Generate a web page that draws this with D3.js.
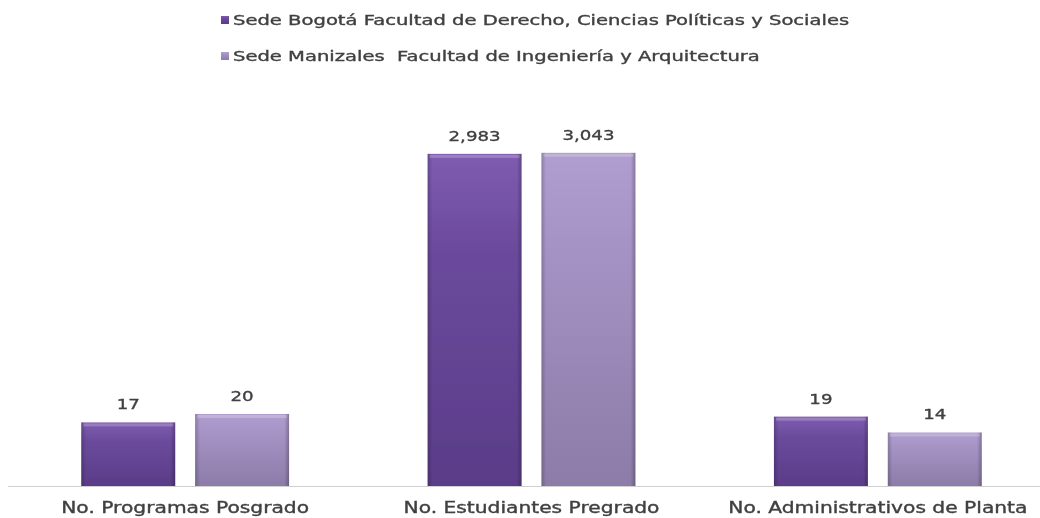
<!DOCTYPE html>
<html>
<head>
<meta charset="utf-8">
<script src="https://cdn.jsdelivr.net/npm/d3@7"></script>
<style>
  html, body { margin: 0; padding: 0; background: #fff; }
  svg { display: block; }
  text { font-family: "DejaVu Sans", Verdana, sans-serif; fill: #404040; stroke: #404040; stroke-width: 0.35px; white-space: pre; }
</style>
</head>
<body>
<svg id="chart" width="1040" height="518"></svg>
<script>
// Indicadores por sede
const categories = ["No. Programas Posgrado", "No. Estudiantes Pregrado", "No. Administrativos de Planta"];
const seriesNames = [
  "Sede Bogotá Facultad de Derecho, Ciencias Políticas y Sociales",
  "Sede Manizales  Facultad de Ingeniería y Arquitectura"
];
const bogota = [17, 2983, 19];
const manizales = [20, 3043, 14];
const valueLabels = [["17", "2,983", "19"], ["20", "3,043", "14"]];

const series = [bogota, manizales];
const W = 1040, H = 518;
const svg = d3.select("#chart");

// place a text at (x, y) and widen it horizontally by sx
function placeText(parent, str, x, yPos, size, anchor, sx) {
  return parent.append("text")
    .attr("transform", `translate(${x},${yPos}) scale(${sx},1)`)
    .attr("text-anchor", anchor)
    .attr("font-size", size)
    .text(str);
}

const baseY = 486;
const x0 = d3.scaleBand().domain(categories).range([12, 1051]).paddingInner(0.4).paddingOuter(0.2);
const x1 = d3.scaleBand().domain([0, 1]).range([0, x0.bandwidth()]).paddingInner(0.175);
const y = d3.scaleLog().domain([5, 10000]).range([baseY, 91]);

// gradients giving the bars a bevelled look
const defs = svg.append("defs");
const palettes = [
  { top: "#7f5cb0", mid: "#6a4a9c", bot: "#5a3c88" },
  { top: "#b09ed0", mid: "#a492c4", bot: "#8c7ca8" }
];
palettes.forEach((p, i) => {
  const g = defs.append("linearGradient").attr("id", "vg" + i).attr("x1", 0).attr("y1", 0).attr("x2", 0).attr("y2", 1);
  g.append("stop").attr("offset", "0").attr("stop-color", p.top);
  g.append("stop").attr("offset", "0.3").attr("stop-color", p.mid);
  g.append("stop").attr("offset", "1").attr("stop-color", p.bot);
});
const side = defs.append("linearGradient").attr("id", "side").attr("x1", 0).attr("y1", 0).attr("x2", 1).attr("y2", 0);
side.append("stop").attr("offset", "0").attr("stop-color", "#000").attr("stop-opacity", 0.2);
side.append("stop").attr("offset", "0.05").attr("stop-color", "#000").attr("stop-opacity", 0.0);
side.append("stop").attr("offset", "0.95").attr("stop-color", "#000").attr("stop-opacity", 0.0);
side.append("stop").attr("offset", "1").attr("stop-color", "#000").attr("stop-opacity", 0.25);
defs.append("filter").attr("id", "soft").append("feGaussianBlur").attr("stdDeviation", 0.6);
defs.append("filter").attr("id", "softText").append("feGaussianBlur").attr("stdDeviation", 0.45);

// baseline
svg.append("line").attr("x1", 8).attr("x2", W).attr("y1", baseY + 0.5).attr("y2", baseY + 0.5)
  .attr("stroke", "#d0d0d0").attr("stroke-width", 1.2);

// bars
const barLayer = svg.append("g").attr("filter", "url(#soft)");
const textLayer = svg.append("g").attr("filter", "url(#softText)");

categories.forEach((cat, ci) => {
  series.forEach((vals, si) => {
    const v = vals[ci];
    const bx = x0(cat) + x1(si), bw = x1.bandwidth();
    const by = y(v), bh = baseY - y(v);
    barLayer.append("rect").attr("x", bx).attr("y", by).attr("width", bw).attr("height", bh)
      .attr("fill", `url(#vg${si})`);
    barLayer.append("rect").attr("x", bx).attr("y", by).attr("width", bw).attr("height", bh)
      .attr("fill", "url(#side)");
    // bright top bevel
    barLayer.append("rect").attr("x", bx + 2).attr("y", by + 1).attr("width", bw - 4).attr("height", 3)
      .attr("fill", "#fff").attr("opacity", 0.22);
    placeText(textLayer, valueLabels[si][ci], bx + bw / 2, by - 13, 14, "middle", 1.3);
  });
});

// category labels
categories.forEach(cat => {
  placeText(textLayer, cat, x0(cat) + x0.bandwidth() / 2, 513, 15, "middle", 1.35);
});

// legend
seriesNames.forEach((name, i) => {
  const ly = 20 + i * 36;
  svg.append("rect").attr("x", 221).attr("y", ly - 4).attr("width", 8).attr("height", 8)
    .attr("fill", `url(#vg${i})`);
  placeText(textLayer, name, 233, ly + 5, 13.5, "start", 1.45);
});
</script>
</body>
</html>
